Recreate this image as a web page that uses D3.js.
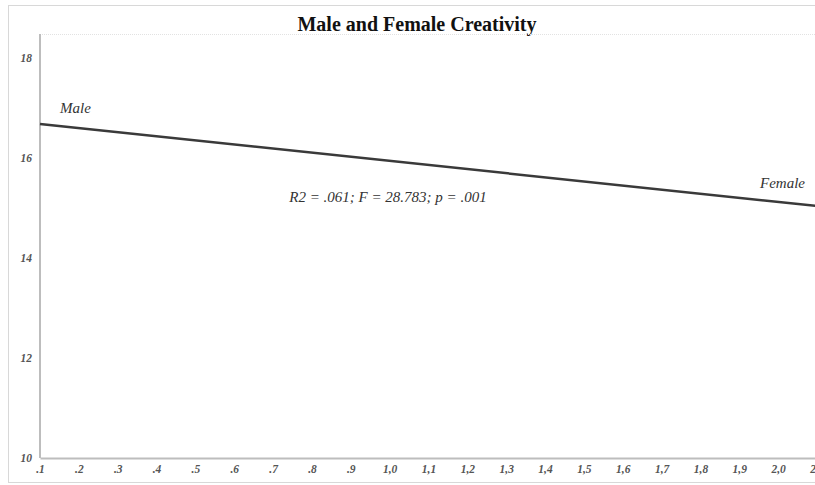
<!DOCTYPE html>
<html>
<head>
<meta charset="utf-8">
<script src="https://cdn.jsdelivr.net/npm/d3@7"></script>
<style>
  html, body { margin: 0; padding: 0; background: #fff; }
  svg { display: block; }
  text { font-family: "Liberation Serif", "Times New Roman", serif; }
</style>
</head>
<body>
<svg id="chart" width="815" height="485"></svg>
<script>
// Regression line of creativity on gender
const groups = ["Male", "Female"];
const groupX = [0.1, 2.1];
const creativity = [16.68, 15.04];
const xTicks = [0.1, 0.2, 0.3, 0.4, 0.5, 0.6, 0.7, 0.8, 0.9, 1.0, 1.1, 1.2, 1.3, 1.4, 1.5, 1.6, 1.7, 1.8, 1.9, 2.0, 2.1];
const yTicks = [10, 12, 14, 16, 18];
const title = "Male and Female Creativity";
const statsNote = "R2 = .061; F = 28.783; p = .001";

const svg = d3.select("#chart");
const W = 815, H = 485;
const plot = { left: 40, right: 817, top: 34, bottom: 458 };

const x = d3.scaleLinear().domain([0.1, 2.1]).range([plot.left, plot.right]);
const y = d3.scaleLinear().domain([10, 18]).range([plot.bottom, plot.bottom - 400]);

// outer frame
svg.append("rect").attr("x", 8.5).attr("y", 5.5).attr("width", W).attr("height", 477)
  .attr("fill", "none").attr("stroke", "#d8d8d8").attr("stroke-width", 1);

// title
svg.append("text").attr("x", 417).attr("y", 31).attr("text-anchor", "middle")
  .attr("font-size", 20).attr("font-weight", "bold").attr("fill", "#111").text(title);

// plot top boundary (dotted)
svg.append("line").attr("x1", plot.left).attr("x2", W).attr("y1", plot.top + 0.5).attr("y2", plot.top + 0.5)
  .attr("stroke", "#e2e2e2").attr("stroke-dasharray", "1,1");

// axes
const xAxis = d3.axisBottom(x).tickValues(xTicks).tickSize(0).tickPadding(7)
  .tickFormat(d => d3.format(".1f")(d).replace(/^0/, "").replace(".", d >= 1 ? "," : "."));
const yAxis = d3.axisLeft(y).tickValues(yTicks).tickSize(0).tickPadding(8)
  .tickFormat(d3.format("d"));

const gx = svg.append("g").attr("transform", `translate(0,${plot.bottom})`).call(xAxis);
gx.select(".domain").attr("stroke", "#bdbdbd").attr("stroke-width", 2);
gx.selectAll("text").attr("font-size", 11.5).attr("font-style", "italic").attr("font-weight", "bold").attr("fill", "#555");

const gy = svg.append("g").attr("transform", `translate(${plot.left},0)`).call(yAxis);
gy.select(".domain").attr("stroke", "#bdbdbd").attr("stroke-width", 2)
  .attr("d", `M0,${plot.bottom}V${plot.top}`);
gy.selectAll("text").attr("font-size", 11.5).attr("font-style", "italic").attr("font-weight", "bold").attr("fill", "#555");

// regression line
const pts = groupX.map((gxv, i) => [gxv, creativity[i]]);
svg.append("path").datum(pts)
  .attr("d", d3.line().x(d => x(d[0])).y(d => y(d[1])))
  .attr("fill", "none").attr("stroke", "#3a3a3a").attr("stroke-width", 2.5);

// group labels
svg.append("text").attr("x", x(groupX[0]) + 20).attr("y", y(creativity[0]) - 11)
  .attr("font-size", 15).attr("font-style", "italic").attr("fill", "#333").text(groups[0]);
svg.append("text").attr("x", x(groupX[1]) - 12).attr("y", y(creativity[1]) - 18)
  .attr("text-anchor", "end")
  .attr("font-size", 15).attr("font-style", "italic").attr("fill", "#333").text(groups[1]);

// model statistics
svg.append("text").attr("x", 388).attr("y", 202).attr("text-anchor", "middle")
  .attr("font-size", 15).attr("font-style", "italic").attr("fill", "#333").text(statsNote);
</script>
</body>
</html>
